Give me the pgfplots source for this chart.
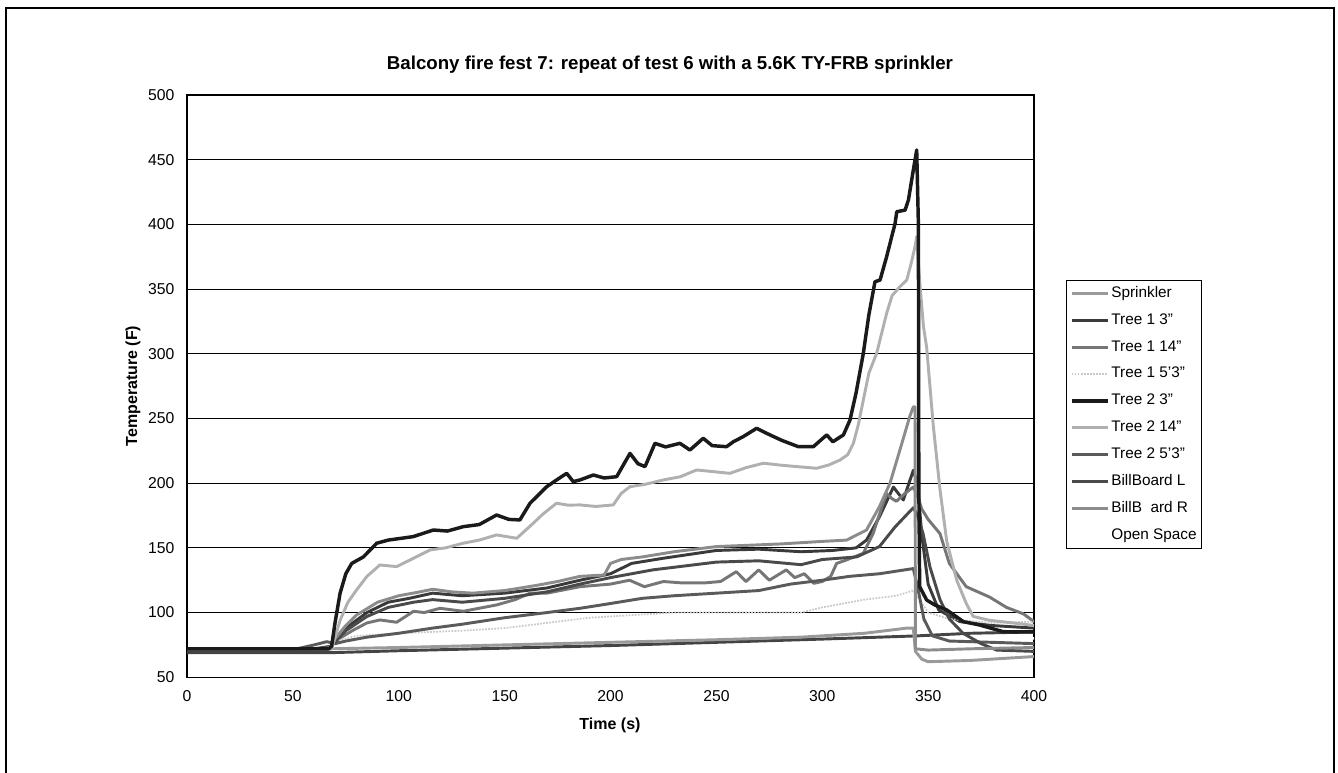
\documentclass[border=0pt]{standalone}
\usepackage{fontspec}
\setmainfont{Liberation Sans}
\usepackage{pgfplots}
\pgfplotsset{compat=1.18}
\definecolor{cSpr}{HTML}{9A9A9A}
\definecolor{cTa}{HTML}{3A3A3A}
\definecolor{cTb}{HTML}{767676}
\definecolor{cTc}{HTML}{C8C8C8}
\definecolor{cTd}{HTML}{1A1A1A}
\definecolor{cTe}{HTML}{B0B0B0}
\definecolor{cTf}{HTML}{5A5A5A}
\definecolor{cBL}{HTML}{4A4A4A}
\definecolor{cBR}{HTML}{8C8C8C}
\definecolor{cX}{HTML}{444444}
\begin{document}
\begin{tikzpicture}[x=1pt,y=1pt]
\path[use as bounding box] (0,0) rectangle (1003.5,579.75);
\draw[line width=1.5pt] (4.5,-3) -- (4.5,573.75) -- (1000.5,573.75) -- (1000.5,-3);
\begin{axis}[
  at={(140.25pt,71.8pt)}, anchor=south west,
  scale only axis, width=635.25pt, height=436.7pt,
  xmin=0,xmax=400,ymin=50,ymax=500,
  xtick={0,50,...,400}, ytick={50,100,...,500},
  ymajorgrids, grid style={black, line width=0.7pt},
  axis line style={black,line width=0.8pt},
  major tick length=0pt,
  tick label style={font=\fontsize{11.8}{14}\selectfont},
  /pgf/number format/assume math mode=true,
  yticklabel style={xshift=-6pt},
  xticklabel style={yshift=-6.5pt},
  legend style={at={(1.0378,0.6823)}, anchor=north west, draw=black, line width=0.8pt,
    font=\fontsize{11.5}{13}\selectfont, row sep=6.2pt, inner sep=2.5pt,
    nodes={text height=8.5pt, text depth=2.5pt, inner sep=1.5pt},
    cells={anchor=west}},
  legend image code/.code={\draw[#1] (0pt,0pt) -- (27pt,0pt);},
  every axis plot/.append style={line join=round},
]
% Open Space (white)
\addplot[white, line width=1.8pt, forget plot] coordinates {(0,70.5)(67,70.5)(70,75)(100,80)(200,88)(300,93)(344,97)(350,80)(400,80)};
% extra dark bottom line
\addplot[cX, line width=2.2pt, forget plot] coordinates {(0,69)(68,69)(100,70.5)(150,72.5)(200,74.5)(250,77)(300,79.5)(345,82)(370,84)(400,85)};
% Sprinkler
\addplot[cSpr, line width=2.2pt, forget plot] coordinates {(0,72)(68,72)(100,73)(150,75)(200,77)(250,79)(290,81)(320,84)(340,88)(343,88)(344,70)(347,64)(350,62)(370,63)(400,66)};
% Tree 1 3"
\addplot[cTa, line width=2.2pt, forget plot] coordinates {(0,72)(66,72)(68,74)(75,88)(85,100)(95,108)(105,111)(116,115)(130,113)(150,115)(170,119)(185.6,125)(200,130)(210,138)(225,142)(250,148)(270,149)(290,147)(305,148)(316,150)(320.9,156)(327,174)(333.6,197)(338.3,187)(343,210)(345,200)(347,160)(350,122)(355,102)(365,93)(380,90)(400,88)};
% Tree 1 14"
\addplot[cTb, line width=2.2pt, forget plot] coordinates {(0,72)(66,72)(68,74)(72,80)(78.6,86.5)(85,92)(91.1,94.3)(99,92.5)(107,101)(112,100)(119.5,103.3)(130.5,101)(146.2,105.9)(155,110)(162,115)(170,115)(185.6,120)(200,122)(209,125)(216,120)(225,124)(233,123)(245,123)(252,124)(259.4,131.6)(264,124)(270,133)(275,125)(283,133)(287,127)(291.5,130)(296,122.6)(300,124)(304,128)(306.8,138)(311.5,140.7)(319.4,145.8)(324,161)(330.3,192)(333,188)(335,186)(339,192)(343,197)(345,190)(347,180)(350,172)(355.6,161)(360,138)(368,120)(379,112)(387,104)(395,99)(400,93)};
% Tree 1 5'3"
\addplot[cTc, line width=1.3pt, densely dotted, forget plot] coordinates {(0,72)(68,72)(70,78)(80,82)(100,84)(130,86)(150,88)(170,92)(190,96)(210,98)(230,100)(260,100)(290,100)(300,104)(320,110)(335,113)(343,117)(346,110)(350,100)(360,95)(380,92)(400,93)};
% Tree 2 5'3"
\addplot[cTf, line width=2.2pt, forget plot] coordinates {(0,72)(52,72)(60,75)(66,77.5)(70,76)(75,78)(85,81)(100,84)(116,88)(130,91)(150,96)(170,100)(185.6,103.3)(200,107)(215,111)(230,113)(250,115)(270,117)(285,122)(300,125)(313,128)(327,130)(343,134)(345,120)(348,95)(352,82)(360,78)(380,77)(400,76)};
% BillBoard L
\addplot[cBL, line width=2.2pt, forget plot] coordinates {(0,72)(60,72)(68,74)(75,86)(85,97)(95,104)(107,108)(116,110)(130,108)(150,111)(170,116)(185.6,122)(200,127)(220,133)(250,139)(270,140)(290,137)(300,141)(316.2,143)(327,151)(334.3,166)(343,181)(345,175)(347.6,161)(350.9,135)(355.6,110)(360,95)(366.5,84)(375,76)(382.3,71)(400,70)};
% BillB ard R
\addplot[cBR, line width=2.2pt, forget plot] coordinates {(0,72)(66,72)(68,74)(70,80)(75,90)(80,98)(90,108)(100,113)(110,116)(116,118)(125,116)(135,115)(150,117)(165,121)(175,124)(185.6,128)(197,129)(200,138)(205,141)(215,143)(230,147)(250,151)(265,152)(280,153)(300,155)(311.5,156)(320.9,163.8)(327,181.8)(332,200)(336.7,225.8)(341.3,251.4)(343,259)(343.8,259)(344,72)(350,71)(370,72)(400,73)};
% Tree 2 14"
\addplot[cTe, line width=2.2pt, forget plot] coordinates {(0,72)(67,72)(68.3,72)(72.3,94)(76,108)(80.1,117.5)(85,128)(91.1,136.8)(99,135.5)(107,142)(114.8,148.4)(122,150)(130.5,153.6)(138,156)(146.2,160)(155.7,157.4)(163.5,169)(168,176)(174.5,184.5)(180,183)(185.6,183.2)(193,182)(201.3,183.2)(205,192)(209.2,197.3)(216,199)(225,202.5)(233,205)(240.7,210.2)(248,209)(256.4,207.6)(264,212)(272.2,215.4)(280,214)(288,212.8)(297.4,211.5)(303,214)(308.4,217.9)(312,222)(314.7,230.8)(317,245)(319.4,264.3)(322,285)(325.7,300.4)(330.4,331.3)(333,345)(336.7,351.9)(339.9,357)(342,370)(343.8,382.8)(344.6,390.5)(346.2,352)(347.8,321)(349.3,305)(352.4,245)(355.6,195)(358.8,155)(363.5,125)(368,107)(371.3,97)(379,94)(390,92)(400,90)};
% Tree 2 3"
\addplot[cTd, line width=2.6pt, forget plot] coordinates {(0,72)(67,72)(68.3,74)(69.9,92)(72.3,115)(75,130)(77.8,138)(83.3,143)(89.6,153.6)(95,156)(106.9,158.7)(116.3,163.8)(123,163)(130.5,166.4)(138,168)(146.2,175.4)(152,172)(157.2,171.6)(162,184.5)(169.9,197.3)(175,203)(179.3,207.6)(182.4,201.2)(185.6,202.5)(191.9,206.3)(197,204)(202.9,205)(209.2,223)(213,215)(216.3,212.8)(221,230.8)(226,228)(232.8,230.8)(237.5,225.6)(243.8,234.7)(248,229)(254.8,228.2)(258,232)(262.7,236)(269,242.4)(275.3,237.3)(281,233)(288.7,228.2)(295.8,228.2)(302.1,237.3)(305,232)(310,237.3)(313.1,248.8)(316,270)(319.4,300.4)(322,330)(324.9,355.7)(327.3,357)(330.4,375)(334.4,400.8)(335.2,409.8)(339.1,411)(340.7,418.9)(343,442)(344.6,457.5)(345.4,400)(345.6,200)(346,120)(349.3,109.7)(353,106)(358.8,102)(366.6,93)(374.3,90.4)(385.5,85.2)(400,85)};
% legend
\addlegendimage{cSpr, line width=2.2pt}\addlegendentry{Sprinkler}
\addlegendimage{cTa, line width=2.2pt}\addlegendentry{Tree 1 3"}
\addlegendimage{cTb, line width=2.2pt}\addlegendentry{Tree 1 14"}
\addlegendimage{cTc, line width=1.3pt, densely dotted}\addlegendentry{Tree 1 5'3"}
\addlegendimage{cTd, line width=2.6pt}\addlegendentry{Tree 2 3"}
\addlegendimage{cTe, line width=2.2pt}\addlegendentry{Tree 2 14"}
\addlegendimage{cTf, line width=2.2pt}\addlegendentry{Tree 2 5'3"}
\addlegendimage{cBL, line width=2.2pt}\addlegendentry{BillBoard L}
\addlegendimage{cBR, line width=2.2pt}\addlegendentry{BillB\ \ ard R}
\addlegendimage{white, line width=2.2pt}\addlegendentry{Open Space}
\end{axis}
\node[font=\bfseries\fontsize{14}{16}\selectfont] at (502.5,531) {Balcony fire fest 7: repeat of test 6 with a 5.6K TY-FRB sprinkler};
\node[font=\bfseries\fontsize{12}{14}\selectfont, rotate=90] at (99.75,290.25) {Temperature (F)};
\node[font=\bfseries\fontsize{12}{14}\selectfont] at (457.5,36) {Time (s)};
\end{tikzpicture}
\end{document}
